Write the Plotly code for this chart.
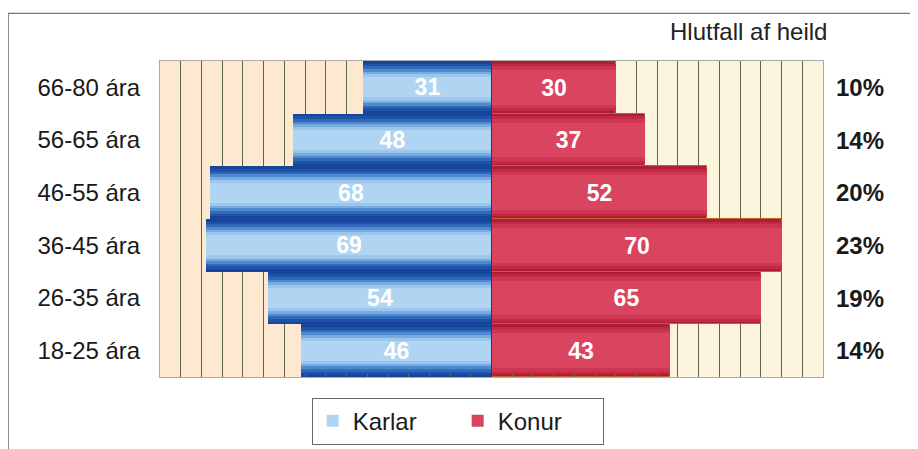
import plotly.graph_objects as go

# ── Data ──────────────────────────────────────────────────────────────────────
ages = ["18-25 ára", "26-35 ára", "36-45 ára", "46-55 ára", "56-65 ára", "66-80 ára"]
karlar = [46, 54, 69, 68, 48, 31]
konur = [43, 65, 70, 52, 37, 30]
hlutfall = ["14%", "19%", "23%", "20%", "14%", "10%"]

FONT = "Liberation Sans, Arial, sans-serif"

# layered bars give the cylinder-like shading: (width, colour)
BLUE_LAYERS = [(1.0, "#16459a"), (0.9, "#1e53a7"), (0.8, "#3069bb"),
               (0.7, "#4f89cf"), (0.6, "#78ace1"), (0.5, "#9cc6ee"), (0.38, "#afd5f3")]
RED_LAYERS = [(1.0, "#ab1e35"), (0.9, "#c02a44"), (0.8, "#ce3652"), (0.66, "#d9445f")]

men_x = [-v for v in karlar]

fig = go.Figure()

for i, (w, col) in enumerate(BLUE_LAYERS):
    last = i == len(BLUE_LAYERS) - 1
    fig.add_trace(go.Bar(
        y=ages, x=men_x, orientation="h", width=w,
        marker=dict(color=col, line=dict(width=0)),
        name="Karlar", legendgroup="k", showlegend=last,
        text=karlar if last else None,
        textposition="inside" if last else "none",
        insidetextanchor="middle", textangle=0, constraintext="none",
        textfont=dict(family=FONT, size=23, color="white", weight="bold"),
        hoverinfo="skip",
    ))

for i, (w, col) in enumerate(RED_LAYERS):
    last = i == len(RED_LAYERS) - 1
    fig.add_trace(go.Bar(
        y=ages, x=konur, orientation="h", width=w,
        marker=dict(color=col, line=dict(width=1 if i == 0 else 0, color="#c8602a")),
        name="Konur", legendgroup="w", showlegend=last,
        text=konur if last else None,
        textposition="inside" if last else "none",
        insidetextanchor="middle", textangle=0, constraintext="none",
        textfont=dict(family=FONT, size=23, color="white", weight="bold"),
        hoverinfo="skip",
    ))

# share of total, right of the plot
for a, p in zip(ages, hlutfall):
    fig.add_annotation(
        x=1.056, xref="paper", y=a, yref="y", text=p, showarrow=False,
        xanchor="center", font=dict(family=FONT, size=24, color="#1a1a1a", weight="bold"),
    )

fig.add_annotation(
    x=0.887, xref="paper", y=1.093, yref="paper", text="Hlutfall af heild",
    showarrow=False, xanchor="center", yanchor="middle",
    font=dict(family=FONT, size=24, color="#222222"),
)

# background tint and outer frame
fig.add_shape(type="rect", xref="x domain", yref="y domain", x0=0, x1=0.5, y0=0, y1=1,
              fillcolor="#fce9d0", line_width=0, layer="below")
fig.add_shape(type="rect", xref="x domain", yref="y domain", x0=0.5, x1=1, y0=0, y1=1,
              fillcolor="#fdf4de", line_width=0, layer="below")
fig.add_shape(type="rect", xref="paper", yref="paper", x0=-0.229, x1=1.3, y0=-0.4, y1=1.151,
              line=dict(color="#555555", width=1), fillcolor="rgba(0,0,0,0)")
fig.add_vline(x=0, line=dict(color="#3a3a3a", width=1))

fig.update_layout(
    barmode="overlay",
    bargap=0,
    width=918, height=449,
    paper_bgcolor="white",
    plot_bgcolor="rgba(0,0,0,0)",
    font=dict(family=FONT, color="#1a1a1a"),
    margin=dict(l=152, r=103, t=53, b=72),
    showlegend=True,
    legend=dict(
        orientation="h", x=0.449, xanchor="center", y=-0.065, yanchor="top",
        bordercolor="#666666", borderwidth=1, bgcolor="white",
        font=dict(family=FONT, size=24, color="#1a1a1a"),
        entrywidth=100, traceorder="normal",
    ),
    xaxis=dict(
        range=[-80, 80], dtick=5, showticklabels=False,
        showgrid=True, gridcolor="#5d6450", gridwidth=1, zeroline=False,
        showline=True, linecolor="#aaaaaa", linewidth=1, mirror=True,
        ticks="inside", ticklen=3, tickcolor="#666666", fixedrange=True,
    ),
    yaxis=dict(
        categoryorder="array", categoryarray=ages,
        showgrid=False, zeroline=False, ticks="", ticklabelstandoff=14,
        tickfont=dict(family=FONT, size=24, color="#1a1a1a"),
        showline=True, linecolor="#aaaaaa", linewidth=1, mirror=True,
    ),
)

fig.write_html("out.html")
